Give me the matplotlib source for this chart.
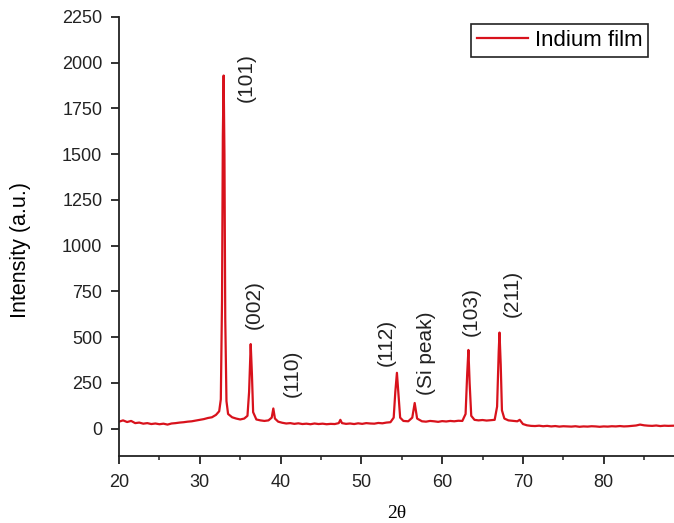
import matplotlib
matplotlib.use("Agg")
import matplotlib.pyplot as plt
from matplotlib.ticker import MultipleLocator

plt.rcParams['font.family'] = ['Liberation Sans', 'DejaVu Sans']

# XRD pattern (2-theta in degrees, intensity in a.u.)
two_theta = [
    20.0, 20.5, 21.0, 21.5, 22.0, 22.5, 23.0, 23.5, 24.0, 24.5,
    25.0, 25.5, 26.0, 26.5, 27.0, 27.5, 28.0, 28.5, 29.0, 29.5,
    30.0, 30.5, 31.0, 31.5, 32.0, 32.4, 32.6, 32.75, 32.85, 32.95,
    33.05, 33.15, 33.3, 33.5, 34.0, 34.5, 35.0, 35.5, 35.9, 36.1,
    36.3, 36.45, 36.6, 37.0, 37.5, 38.0, 38.5, 38.9, 39.1, 39.3,
    39.7, 40.2, 40.7, 41.2, 41.7, 42.2, 42.7, 43.2, 43.7, 44.2,
    44.7, 45.2, 45.7, 46.2, 46.7, 47.2, 47.4, 47.6, 48.1, 48.6,
    49.1, 49.6, 50.1, 50.6, 51.1, 51.6, 52.1, 52.6, 53.1, 53.6,
    54.0, 54.2, 54.4, 54.6, 54.8, 55.2, 55.8, 56.3, 56.6, 56.9,
    57.5, 58.0, 58.5, 59.0, 59.5, 60.0, 60.5, 61.0, 61.5, 62.0,
    62.5, 62.9, 63.1, 63.25, 63.4, 63.6, 64.0, 64.5, 65.0, 65.5,
    66.0, 66.5, 66.8, 67.0, 67.1, 67.25, 67.4, 67.7, 68.2, 68.7,
    69.3, 69.6, 70.0, 70.5, 71.0, 71.5, 72.0, 72.5, 73.0, 73.5,
    74.0, 74.5, 75.0, 75.5, 76.0, 76.5, 77.0, 77.5, 78.0, 78.5,
    79.0, 79.5, 80.0, 80.5, 81.0, 81.5, 82.0, 82.5, 83.0, 83.5,
    84.0, 84.5, 85.0, 85.5, 86.0, 86.5, 87.0, 87.5, 88.0, 88.7,
]
intensity = [
    38, 45, 36, 42, 30, 33, 27, 30, 25, 28,
    24, 27, 22, 28, 30, 33, 35, 38, 40, 44,
    48, 52, 58, 62, 75, 95, 160, 700, 1600, 1930,
    1500, 600, 150, 80, 62, 55, 50, 55, 70, 200,
    462, 300, 90, 50, 45, 42, 45, 60, 110, 55,
    38, 32, 28, 30, 26, 29, 25, 27, 24, 28,
    25, 27, 24, 26, 25, 30, 48, 30, 26, 28,
    25, 29, 26, 30, 28, 27, 31, 29, 33, 35,
    60, 200, 305, 180, 60, 42, 40, 60, 140, 55,
    40, 38, 42, 40, 37, 41, 39, 42, 40, 43,
    42, 80, 300, 430, 250, 70, 48, 45, 47, 44,
    46, 48, 120, 420, 525, 350, 100, 55, 45, 43,
    40, 48, 25, 18, 15, 14, 16, 13, 15, 12,
    14, 11, 13, 12, 11, 13, 10, 12, 11, 13,
    12, 10, 12, 11, 13, 12, 14, 12, 13, 15,
    17, 22, 18, 16, 15, 17, 14, 16, 15, 16,
]

peak_labels = ["(101)", "(002)", "(110)", "(112)", "(Si peak)", "(103)", "(211)"]
label_x = [35.8, 36.8, 41.4, 53.1, 58.1, 63.6, 68.7]
label_y = [1920, 680, 300, 470, 410, 640, 740]

fig = plt.figure(figsize=(6.74, 5.23), dpi=100)
ax = fig.add_axes([0.1766, 0.128, 0.8234, 0.8395])

ax.plot(two_theta, intensity, color='#d8121c', lw=1.6, label='Indium film')

for txt, x, y in zip(peak_labels, label_x, label_y):
    ax.text(x, y, txt, rotation=90, ha='center', va='center', fontsize=15, color='#222222')

ax.set_xlim(20, 88.7)
ax.set_ylim(-150, 2250)
ax.set_yticks(range(0, 2251, 250))
ax.xaxis.set_major_locator(MultipleLocator(10))
ax.xaxis.set_minor_locator(MultipleLocator(5))
ax.spines['top'].set_visible(False)
ax.spines['right'].set_visible(False)
for s in ['left', 'bottom']:
    ax.spines[s].set_linewidth(1.3)
    ax.spines[s].set_color('#222222')
ax.tick_params(which='major', direction='out', length=6, width=1.3, labelsize=13, colors='#222222')
ax.tick_params(axis='x', which='major', pad=7)
ax.tick_params(axis='y', which='major', pad=6)
ax.tick_params(which='minor', direction='out', length=3, width=1.1, colors='#222222')

ax.set_xlabel('2θ', family=['Liberation Serif', 'DejaVu Serif'], fontsize=14, labelpad=10)
ax.set_ylabel('Intensity (a.u.)', fontsize=15.5)
ax.yaxis.set_label_coords(-0.158, 0.47)

leg = ax.legend(loc='upper right', bbox_to_anchor=(0.954, 0.984), borderaxespad=0,
                fancybox=False, edgecolor='#222222', fontsize=16, handlelength=2.3,
                handletextpad=0.3, borderpad=0.28, framealpha=1)
leg.get_frame().set_linewidth(1.2)

fig.savefig('out.png', dpi=100)
